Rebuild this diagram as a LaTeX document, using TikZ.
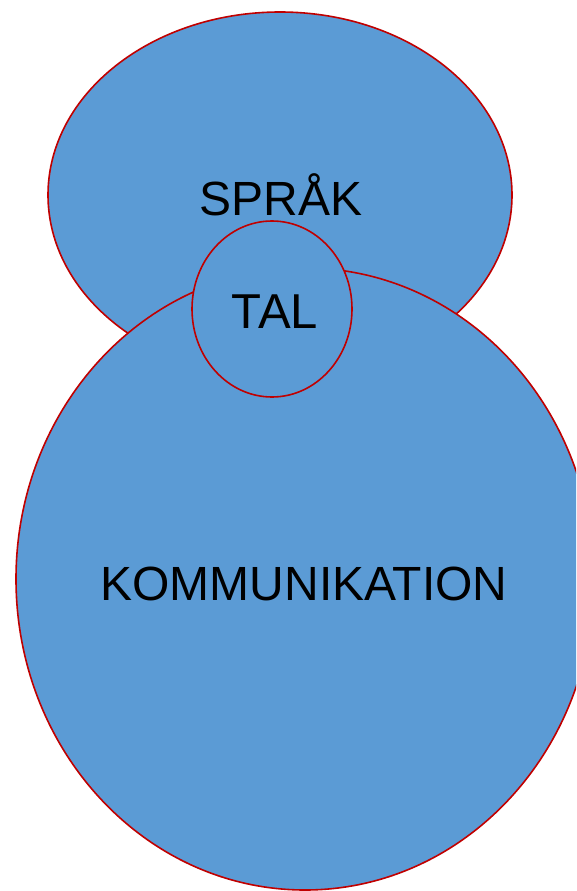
\documentclass[tikz,border=0pt]{standalone}
\usepackage{fontspec}
\setmainfont{Liberation Sans}
\usetikzlibrary{shapes.geometric}
\definecolor{fillblue}{HTML}{5B9BD5}
\definecolor{edgered}{HTML}{C00000}
\begin{document}
\begin{tikzpicture}[x=1pt,y=-1pt,
  bubble/.style={ellipse, draw=edgered, fill=fillblue, line width=1.6pt, inner sep=0pt},
  lbl/.style={anchor=base, inner sep=0pt, font=\fontsize{48}{52}\selectfont}]
\useasboundingbox (0,0) rectangle (576,891);
\clip (0,0) rectangle (576,891);
\node[bubble, minimum width=464pt, minimum height=366pt] (sprak) at (280,195) {};
\node[bubble, minimum width=578pt, minimum height=622pt] (komm) at (305,579) {};
\node[bubble, minimum width=160pt, minimum height=176pt] (tal) at (272,309) {};
\node[lbl] (sprakt) at (281,215) {SPRÅK};
\node[lbl, font=\fontsize{49}{52}\selectfont] (talt) at (275,328) {TAL};
\node[lbl] (kommt) at (304,600) {KOMMUNIKATION};
\end{tikzpicture}
\end{document}
